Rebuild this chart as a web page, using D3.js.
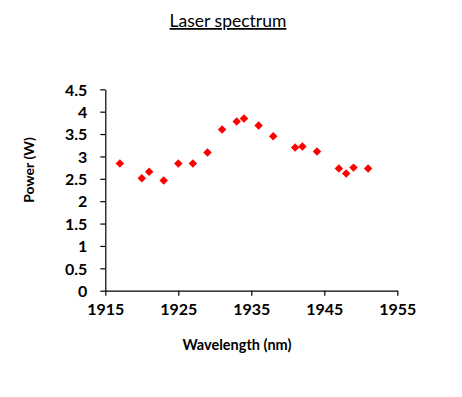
<!DOCTYPE html>
<html>
<head>
<meta charset="utf-8">
<script src="https://cdn.jsdelivr.net/npm/d3@7"></script>
<style>
body{margin:0;background:#fff;}
text{font-family:Lato,"Open Sans",sans-serif;fill:#000;}
</style>
</head>
<body>
<div id="chart"></div>
<script>
(function(){
var width = 462,
	height = 397,
	margin = {top:89.3,left:105.3,right:462-397.3,bottom:397-290.7};

// data
var wavelength = [1917,1920,1921,1923,1925,1927,1929,1931,1933,1934,1936,1938,1941,1942,1944,1947,1948,1949,1951];
var power = [2.84,2.51,2.66,2.46,2.84,2.84,3.09,3.60,3.78,3.85,3.69,3.45,3.20,3.22,3.11,2.73,2.62,2.75,2.73];
var xTicks = [1915,1925,1935,1945,1955];
var yTicks = [0,0.5,1,1.5,2,2.5,3,3.5,4,4.5];

var points = wavelength.map(function(d,i){ return {x:d, y:power[i]}; });

var X = d3.scaleLinear().domain([1915,1955]).range([margin.left,width-margin.right]);
var Y = d3.scaleLinear().domain([0,4.5]).range([height-margin.bottom,margin.top]);

var svg = d3.select("#chart").append("svg")
	.attr("width",width)
	.attr("height",height);

// title, underlined
svg.append("text")
	.attr("x",228).attr("y",27)
	.attr("text-anchor","middle")
	.style("font-size","17.5px")
	.style("text-decoration","underline")
	.text("Laser spectrum");

var xAxis = svg.append("g")
	.attr("transform","translate(0,"+Y(0)+")")
	.call(d3.axisBottom(X).tickValues(xTicks).tickFormat(d3.format("d")).tickSize(5).tickSizeOuter(0));

var yAxis = svg.append("g")
	.attr("transform","translate("+X(1915)+",0)")
	.call(d3.axisLeft(Y).tickValues(yTicks).tickFormat(function(d){return d;}).tickSize(5).tickSizeOuter(0));

[xAxis,yAxis].forEach(function(a){
	a.select(".domain").attr("stroke","#000").attr("stroke-width",1.2);
	a.selectAll(".tick line").attr("stroke","#000").attr("stroke-width",1.2);
	a.selectAll(".tick text")
		.style("font-size","16px")
		.style("font-weight","bold")
		.style("font-family","Lato,'Open Sans',sans-serif");
});
xAxis.selectAll(".tick text").attr("y",13);
yAxis.selectAll(".tick text").attr("x",-18).attr("dy","0.36em");

svg.append("text")
	.attr("x",237).attr("y",350)
	.attr("text-anchor","middle")
	.style("font-size","14.5px")
	.style("font-weight","bold")
	.text("Wavelength (nm)");

svg.append("text")
	.attr("transform","translate(34,170) rotate(-90)")
	.attr("text-anchor","middle")
	.style("font-size","14px")
	.style("font-weight","bold")
	.text("Power (W)");

var diamond = d3.symbol().type(d3.symbolDiamond2).size(46);

svg.selectAll(".pt").data(points).enter().append("path")
	.attr("class","pt")
	.attr("d",diamond)
	.attr("fill","#ff0000")
	.attr("transform",function(d){return "translate("+X(d.x)+","+Y(d.y)+")";});
})()
</script>
</body>
</html>
